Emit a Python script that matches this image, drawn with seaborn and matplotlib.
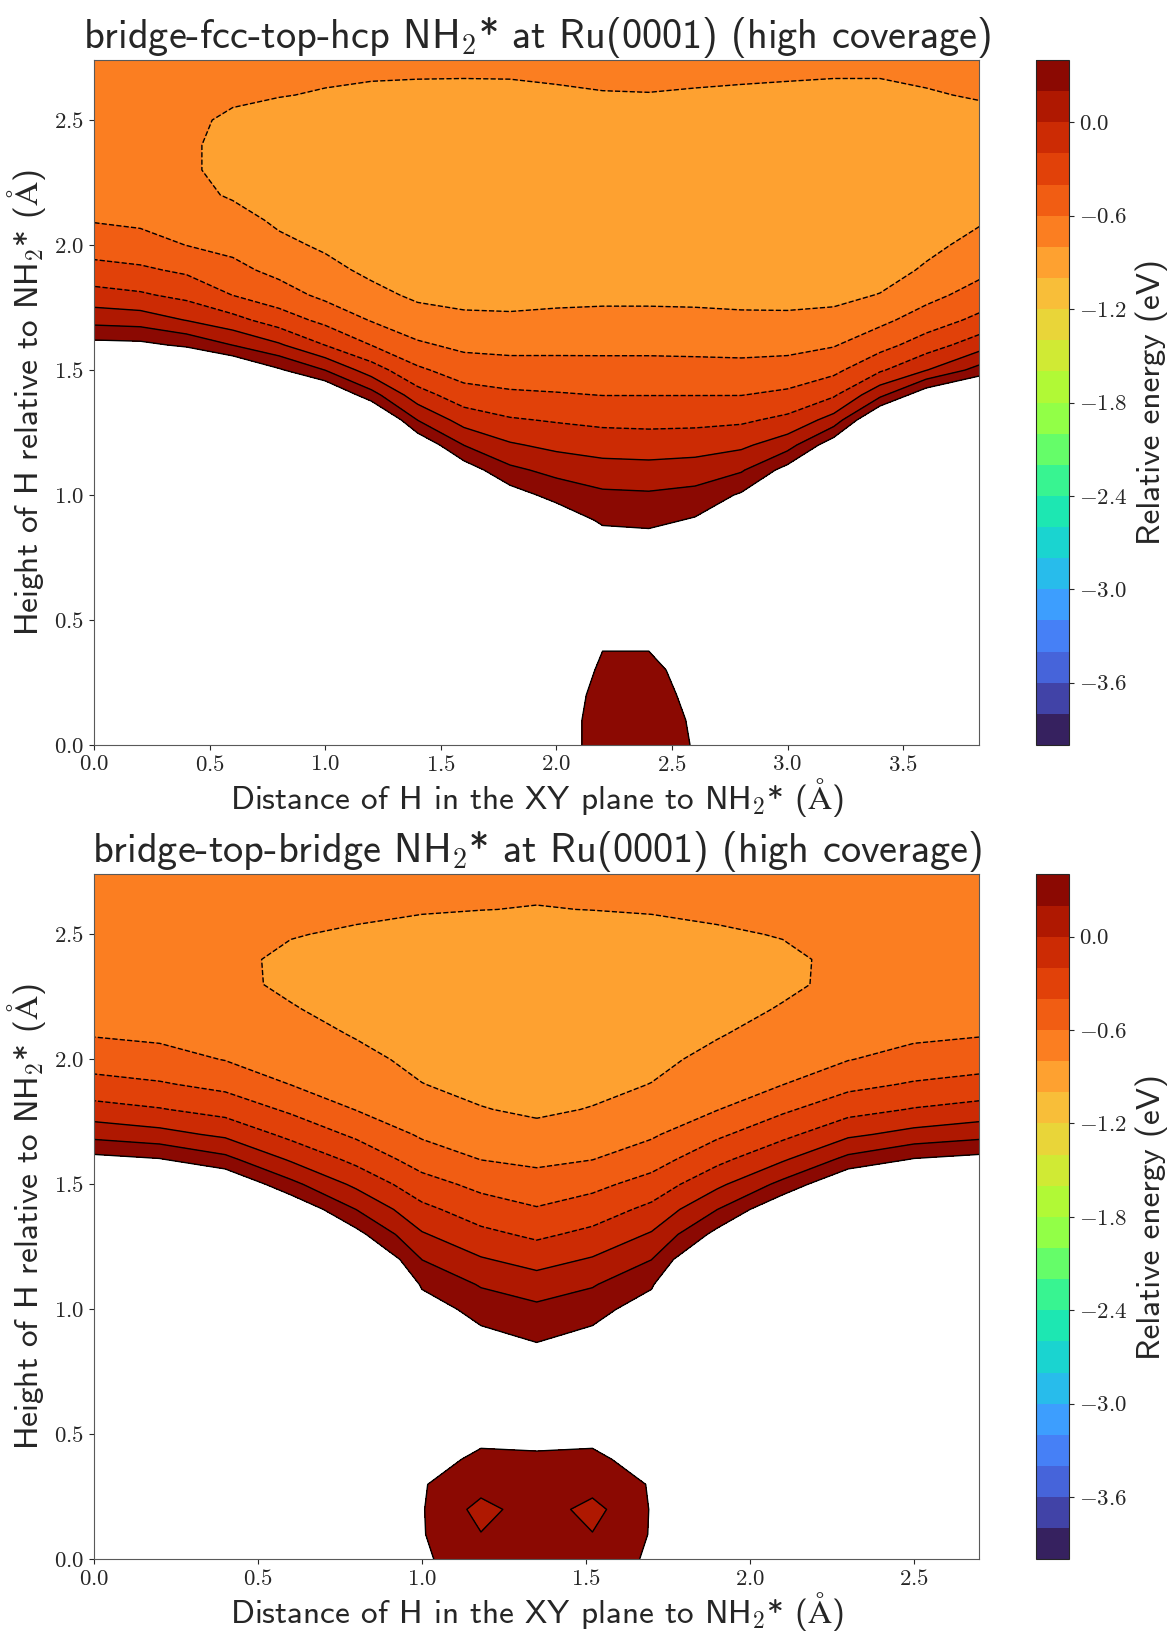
import numpy as np
import matplotlib
matplotlib.use("Agg")
import matplotlib.pyplot as plt
from matplotlib.mathtext import MathTextParser
import seaborn as sns

# Heights of H relative to NH2* (Angstrom) at which the energy was sampled
HEIGHTS = [0.0, 0.1, 0.2, 0.3, 0.4, 0.5, 0.6, 0.7, 0.8, 0.9, 1.0, 1.1, 1.2, 1.3,
           1.4, 1.5, 1.6, 1.7, 1.8, 1.9, 2.0, 2.1, 2.2, 2.3, 2.4, 2.5, 2.6, 2.7, 2.74]

# bridge-fcc-top-hcp path: in-plane distances and one energy profile (eV) per distance
X_TOP = [0.0, 0.2, 0.4, 0.6, 0.8, 1.0, 1.2, 1.4, 1.6, 1.8,
         2.0, 2.2, 2.4, 2.6, 2.8, 3.0, 3.2, 3.4, 3.6, 3.83]
E_TOP = [
    [8.0, 8.0, 7.87, 7.6, 7.33, 6.93, 6.53, 6.0, 5.47, 4.93, 4.27, 3.6, 2.93, 2.27, 1.6, 1.0,
     0.467, 0.133, -0.128, -0.336, -0.489, -0.613, -0.693, -0.733, -0.76, -0.773, -0.767, -0.753, -0.747],
    [7.47, 7.47, 7.33, 7.2, 6.93, 6.67, 6.27, 5.87, 5.33, 4.8, 4.27, 3.6, 2.93, 2.27, 1.6, 0.96,
     0.453, 0.107, -0.173, -0.369, -0.52, -0.64, -0.713, -0.753, -0.773, -0.784, -0.78, -0.767, -0.76],
    [6.67, 6.67, 6.53, 6.4, 6.27, 6.0, 5.73, 5.33, 4.93, 4.53, 4.0, 3.47, 2.8, 2.13, 1.47, 0.827,
     0.364, -0.007, -0.255, -0.433, -0.603, -0.693, -0.745, -0.775, -0.775, -0.775, -0.77, -0.765, -0.76],
    [5.87, 5.87, 5.87, 5.73, 5.6, 5.47, 5.2, 4.93, 4.53, 4.13, 3.73, 3.2, 2.53, 1.93, 1.27, 0.667,
     0.197, -0.133, -0.403, -0.548, -0.651, -0.729, -0.82, -0.85, -0.85, -0.82, -0.78, -0.753, -0.747],
    [5.07, 5.07, 4.93, 4.93, 4.8, 4.67, 4.53, 4.27, 4.0, 3.6, 3.2, 2.67, 2.13, 1.53, 0.933, 0.427,
     0.027, -0.3, -0.513, -0.653, -0.757, -0.833, -0.867, -0.887, -0.893, -0.867, -0.793, -0.76, -0.747],
    [4.4, 4.4, 4.4, 4.27, 4.27, 4.13, 4.0, 3.73, 3.47, 3.07, 2.67, 2.27, 1.73, 1.2, 0.667, 0.197,
     -0.203, -0.453, -0.647, -0.747, -0.827, -0.873, -0.9, -0.913, -0.92, -0.9, -0.813, -0.767, -0.753],
    [3.6, 3.6, 3.6, 3.47, 3.47, 3.33, 3.2, 3.07, 2.8, 2.53, 2.2, 1.8, 1.33, 0.773, 0.28, -0.1,
     -0.403, -0.613, -0.747, -0.84, -0.887, -0.913, -0.933, -0.947, -0.947, -0.92, -0.833, -0.773, -0.76],
    [2.8, 2.8, 2.8, 2.73, 2.67, 2.6, 2.47, 2.27, 2.07, 1.8, 1.47, 1.067, 0.587, 0.197, -0.115, -0.365,
     -0.571, -0.721, -0.833, -0.887, -0.92, -0.94, -0.953, -0.96, -0.96, -0.933, -0.847, -0.773, -0.76],
    [2.0, 2.0, 2.0, 2.0, 2.0, 1.93, 1.8, 1.67, 1.47, 1.2, 0.867, 0.52, 0.197, -0.083, -0.311, -0.496,
     -0.643, -0.764, -0.853, -0.907, -0.933, -0.953, -0.967, -0.973, -0.973, -0.947, -0.853, -0.773, -0.76],
    [0.773, 0.8, 0.867, 1.0, 1.133, 1.173, 1.133, 1.04, 0.867, 0.667, 0.5, 0.244, 0.023, -0.18, -0.364, -0.523,
     -0.656, -0.769, -0.86, -0.913, -0.94, -0.953, -0.967, -0.973, -0.973, -0.94, -0.847, -0.773, -0.76],
    [0.533, 0.533, 0.547, 0.6, 0.693, 0.8, 0.853, 0.827, 0.733, 0.56, 0.327, 0.14, -0.05, -0.217, -0.383, -0.528,
     -0.652, -0.757, -0.847, -0.907, -0.933, -0.949, -0.96, -0.967, -0.967, -0.933, -0.82, -0.773, -0.76],
    [0.293, 0.293, 0.32, 0.36, 0.413, 0.6, 0.733, 0.693, 0.533, 0.363, 0.237, 0.079, -0.089, -0.248, -0.403, -0.533,
     -0.65, -0.75, -0.84, -0.9, -0.927, -0.943, -0.953, -0.96, -0.96, -0.927, -0.807, -0.767, -0.753],
    [0.293, 0.293, 0.32, 0.36, 0.413, 0.56, 0.693, 0.667, 0.507, 0.345, 0.224, 0.067, -0.1, -0.257, -0.403, -0.533,
     -0.65, -0.75, -0.84, -0.9, -0.927, -0.943, -0.953, -0.96, -0.96, -0.92, -0.804, -0.767, -0.753],
    [0.413, 0.427, 0.453, 0.467, 0.6, 0.733, 0.773, 0.693, 0.56, 0.42, 0.261, 0.091, -0.087, -0.252, -0.403, -0.537,
     -0.655, -0.755, -0.843, -0.9, -0.927, -0.943, -0.953, -0.96, -0.96, -0.927, -0.813, -0.767, -0.753],
    [0.827, 0.867, 0.933, 1.067, 1.2, 1.267, 1.2, 1.067, 0.867, 0.667, 0.427, 0.177, -0.04, -0.233, -0.403, -0.543,
     -0.661, -0.764, -0.853, -0.907, -0.933, -0.947, -0.956, -0.96, -0.96, -0.933, -0.82, -0.773, -0.76],
    [1.73, 1.8, 1.87, 2.0, 2.13, 2.2, 2.13, 2.0, 1.73, 1.4, 1.0, 0.48, 0.115, -0.15, -0.36, -0.523,
     -0.656, -0.767, -0.853, -0.907, -0.933, -0.947, -0.956, -0.96, -0.96, -0.94, -0.84, -0.767, -0.76],
    [2.8, 2.87, 2.93, 3.07, 3.13, 3.13, 3.0, 2.8, 2.47, 2.07, 1.6, 1.067, 0.54, 0.08, -0.225, -0.45,
     -0.613, -0.747, -0.847, -0.907, -0.933, -0.947, -0.956, -0.96, -0.96, -0.94, -0.853, -0.773, -0.76],
    [4.53, 4.53, 4.53, 4.67, 4.67, 4.53, 4.4, 4.13, 3.73, 3.2, 2.6, 2.0, 1.33, 0.72, 0.15, -0.228,
     -0.473, -0.647, -0.793, -0.88, -0.92, -0.933, -0.947, -0.953, -0.953, -0.933, -0.853, -0.773, -0.76],
    [5.6, 5.6, 5.6, 5.6, 5.6, 5.47, 5.2, 4.93, 4.53, 4.0, 3.47, 2.8, 2.13, 1.33, 0.56, -0.007,
     -0.3, -0.509, -0.659, -0.776, -0.847, -0.887, -0.913, -0.927, -0.933, -0.907, -0.813, -0.767, -0.753],
    [6.4, 6.4, 6.27, 6.27, 6.13, 5.87, 5.6, 5.2, 4.67, 4.13, 3.47, 2.8, 2.13, 1.47, 0.8, 0.275,
     -0.091, -0.35, -0.523, -0.648, -0.743, -0.82, -0.853, -0.873, -0.88, -0.847, -0.787, -0.76, -0.753],
]

# bridge-top-bridge path: in-plane distances and one energy profile (eV) per distance
X_BOTTOM = [0.0, 0.2, 0.4, 0.6, 0.8, 1.0, 1.18, 1.35, 1.52, 1.7, 1.9, 2.1, 2.3, 2.5, 2.7]
E_BOTTOM = [
    [8.0, 8.0, 7.87, 7.6, 7.33, 6.93, 6.53, 6.0, 5.47, 4.93, 4.27, 3.6, 2.93, 2.27, 1.6, 1.0,
     0.467, 0.133, -0.128, -0.336, -0.489, -0.613, -0.693, -0.733, -0.76, -0.773, -0.767, -0.753, -0.747],
    [7.33, 7.33, 7.2, 7.07, 6.8, 6.53, 6.13, 5.73, 5.2, 4.67, 4.13, 3.47, 2.8, 2.13, 1.47, 0.907,
     0.413, 0.067, -0.188, -0.381, -0.528, -0.64, -0.713, -0.753, -0.773, -0.784, -0.78, -0.767, -0.76],
    [5.87, 5.87, 5.73, 5.73, 5.6, 5.47, 5.2, 4.93, 4.53, 4.13, 3.67, 3.13, 2.53, 1.93, 1.27, 0.633,
     0.257, -0.04, -0.276, -0.453, -0.607, -0.693, -0.74, -0.765, -0.775, -0.775, -0.77, -0.765, -0.76],
    [4.4, 4.4, 4.4, 4.4, 4.4, 4.27, 4.13, 3.87, 3.6, 3.2, 2.8, 2.27, 1.73, 1.133, 0.6, 0.257,
     -0.025, -0.255, -0.433, -0.603, -0.663, -0.725, -0.79, -0.825, -0.82, -0.795, -0.78, -0.76, -0.753],
    [2.4, 2.4, 2.47, 2.53, 2.6, 2.6, 2.53, 2.4, 2.2, 1.93, 1.6, 1.2, 0.8, 0.467, 0.197, -0.044,
     -0.255, -0.436, -0.607, -0.679, -0.749, -0.813, -0.847, -0.867, -0.86, -0.813, -0.78, -0.76, -0.753],
    [0.427, 0.413, 0.413, 0.413, 0.507, 0.667, 0.867, 0.96, 0.907, 0.733, 0.533, 0.367, 0.197, 0.019, -0.15, -0.321,
     -0.488, -0.627, -0.713, -0.796, -0.847, -0.873, -0.893, -0.907, -0.9, -0.853, -0.787, -0.76, -0.753],
    [0.293, 0.207, 0.133, 0.28, 0.347, 0.467, 0.693, 0.693, 0.6, 0.448, 0.312, 0.183, 0.017, -0.15, -0.304, -0.452,
     -0.603, -0.695, -0.791, -0.853, -0.887, -0.907, -0.92, -0.933, -0.927, -0.893, -0.797, -0.76, -0.753],
    [0.293, 0.28, 0.304, 0.32, 0.36, 0.48, 0.613, 0.587, 0.493, 0.356, 0.244, 0.095, -0.076, -0.237, -0.385, -0.52,
     -0.64, -0.74, -0.833, -0.887, -0.913, -0.927, -0.933, -0.94, -0.933, -0.9, -0.807, -0.767, -0.753],
    [0.293, 0.207, 0.133, 0.28, 0.347, 0.467, 0.693, 0.693, 0.6, 0.448, 0.312, 0.183, 0.017, -0.15, -0.304, -0.452,
     -0.603, -0.695, -0.791, -0.853, -0.887, -0.907, -0.92, -0.933, -0.927, -0.893, -0.797, -0.76, -0.753],
    [0.427, 0.413, 0.413, 0.413, 0.507, 0.667, 0.867, 0.96, 0.907, 0.733, 0.533, 0.367, 0.197, 0.019, -0.15, -0.321,
     -0.488, -0.627, -0.713, -0.796, -0.847, -0.873, -0.893, -0.907, -0.9, -0.853, -0.787, -0.76, -0.753],
    [2.4, 2.4, 2.47, 2.53, 2.6, 2.6, 2.53, 2.4, 2.2, 1.93, 1.6, 1.2, 0.8, 0.467, 0.197, -0.044,
     -0.255, -0.436, -0.607, -0.679, -0.749, -0.813, -0.847, -0.867, -0.86, -0.813, -0.78, -0.76, -0.753],
    [4.4, 4.4, 4.4, 4.4, 4.4, 4.27, 4.13, 3.87, 3.6, 3.2, 2.8, 2.27, 1.73, 1.133, 0.6, 0.257,
     -0.025, -0.255, -0.433, -0.603, -0.663, -0.725, -0.79, -0.825, -0.82, -0.795, -0.78, -0.76, -0.753],
    [5.87, 5.87, 5.73, 5.73, 5.6, 5.47, 5.2, 4.93, 4.53, 4.13, 3.67, 3.13, 2.53, 1.93, 1.27, 0.633,
     0.257, -0.04, -0.276, -0.453, -0.607, -0.693, -0.74, -0.765, -0.775, -0.775, -0.77, -0.765, -0.76],
    [7.33, 7.33, 7.2, 7.07, 6.8, 6.53, 6.13, 5.73, 5.2, 4.67, 4.13, 3.47, 2.8, 2.13, 1.47, 0.907,
     0.413, 0.067, -0.188, -0.381, -0.528, -0.64, -0.713, -0.753, -0.773, -0.784, -0.78, -0.767, -0.76],
    [8.0, 8.0, 7.87, 7.6, 7.33, 6.93, 6.53, 6.0, 5.47, 4.93, 4.27, 3.6, 2.93, 2.27, 1.6, 1.0,
     0.467, 0.133, -0.128, -0.336, -0.489, -0.613, -0.693, -0.733, -0.76, -0.773, -0.767, -0.753, -0.747],
]

# Energy levels of the filled contours and colorbar ticks (eV)
LEVEL_MIN, LEVEL_MAX, LEVEL_STEP = -4.0, 0.4, 0.2
CBAR_TICKS = [0.0, -0.6, -1.2, -1.8, -2.4, -3.0, -3.6]

sns.set_style("ticks")
plt.rcParams.update({
    "font.family": "serif",
    "font.serif": ["cmr10"],
    "mathtext.fontset": "cm",
    "axes.formatter.use_mathtext": True,
    "axes.unicode_minus": True,
    "xtick.labelsize": 16.5,
    "ytick.labelsize": 16.5,
    "xtick.direction": "out",
    "ytick.direction": "out",
})
SANS = ["cmss10", "DejaVu Sans"]


def angstrom_symbol():
    """Angstrom sign as mathtext; cmss10 has no usable glyph for it."""
    for candidate in (r"$\mathsf{\AA}$", r"$\AA$"):
        try:
            MathTextParser("agg").parse(candidate, dpi=72)
            return candidate
        except Exception:
            pass
    return r"$\mathring{\mathsf{A}}$"


ANGSTROM = angstrom_symbol()
TITLES = [r"bridge-fcc-top-hcp NH$_\mathsf{2}$* at Ru(0001) (high coverage)",
          r"bridge-top-bridge NH$_\mathsf{2}$* at Ru(0001) (high coverage)"]
XLABEL = r"Distance of H in the XY plane to NH$_\mathsf{2}$* (" + ANGSTROM + ")"
YLABEL = r"Height of H relative to NH$_\mathsf{2}$* (" + ANGSTROM + ")"
CBAR_LABEL = "Relative energy (eV)"

cmap = sns.color_palette("turbo", as_cmap=True)
n_levels = int(round((LEVEL_MAX - LEVEL_MIN) / LEVEL_STEP)) + 1
levels = np.linspace(LEVEL_MIN, LEVEL_MAX, n_levels)

fig = plt.figure(figsize=(11.68, 16.32), dpi=100)

panels = [
    (X_TOP, E_TOP, TITLES[0], [0.0805, 0.5435, 0.758, 0.4197], [0.887, 0.5435, 0.0283, 0.4197]),
    (X_BOTTOM, E_BOTTOM, TITLES[1], [0.0805, 0.0445, 0.758, 0.4197], [0.887, 0.0445, 0.0283, 0.4197]),
]

for xs, profiles, title, rect, crect in panels:
    ax = fig.add_axes(rect)
    cax = fig.add_axes(crect)
    z = np.array(profiles).T
    cf = ax.contourf(xs, HEIGHTS, z, levels=levels, cmap=cmap)
    ax.contour(xs, HEIGHTS, z, levels=levels, colors="k", linewidths=1.0)
    ax.set_xlim(xs[0], xs[-1])
    ax.set_ylim(HEIGHTS[0], HEIGHTS[-1])
    ax.set_xticks(np.arange(0.0, xs[-1] + 1e-9, 0.5))
    ax.set_yticks([0.0, 0.5, 1.0, 1.5, 2.0, 2.5])
    ax.set_title(title, family=SANS, fontsize=29, pad=8)
    ax.set_xlabel(XLABEL, family=SANS, fontsize=24, labelpad=1)
    ax.set_ylabel(YLABEL, family=SANS, fontsize=24, labelpad=4)
    for s in ax.spines.values():
        s.set_color("0.35")
    cb = fig.colorbar(cf, cax=cax, ticks=CBAR_TICKS)
    cb.set_label(CBAR_LABEL, family=SANS, fontsize=24, labelpad=6)
    cb.ax.tick_params(labelsize=16.5)

fig.savefig("out.png", dpi=100)
